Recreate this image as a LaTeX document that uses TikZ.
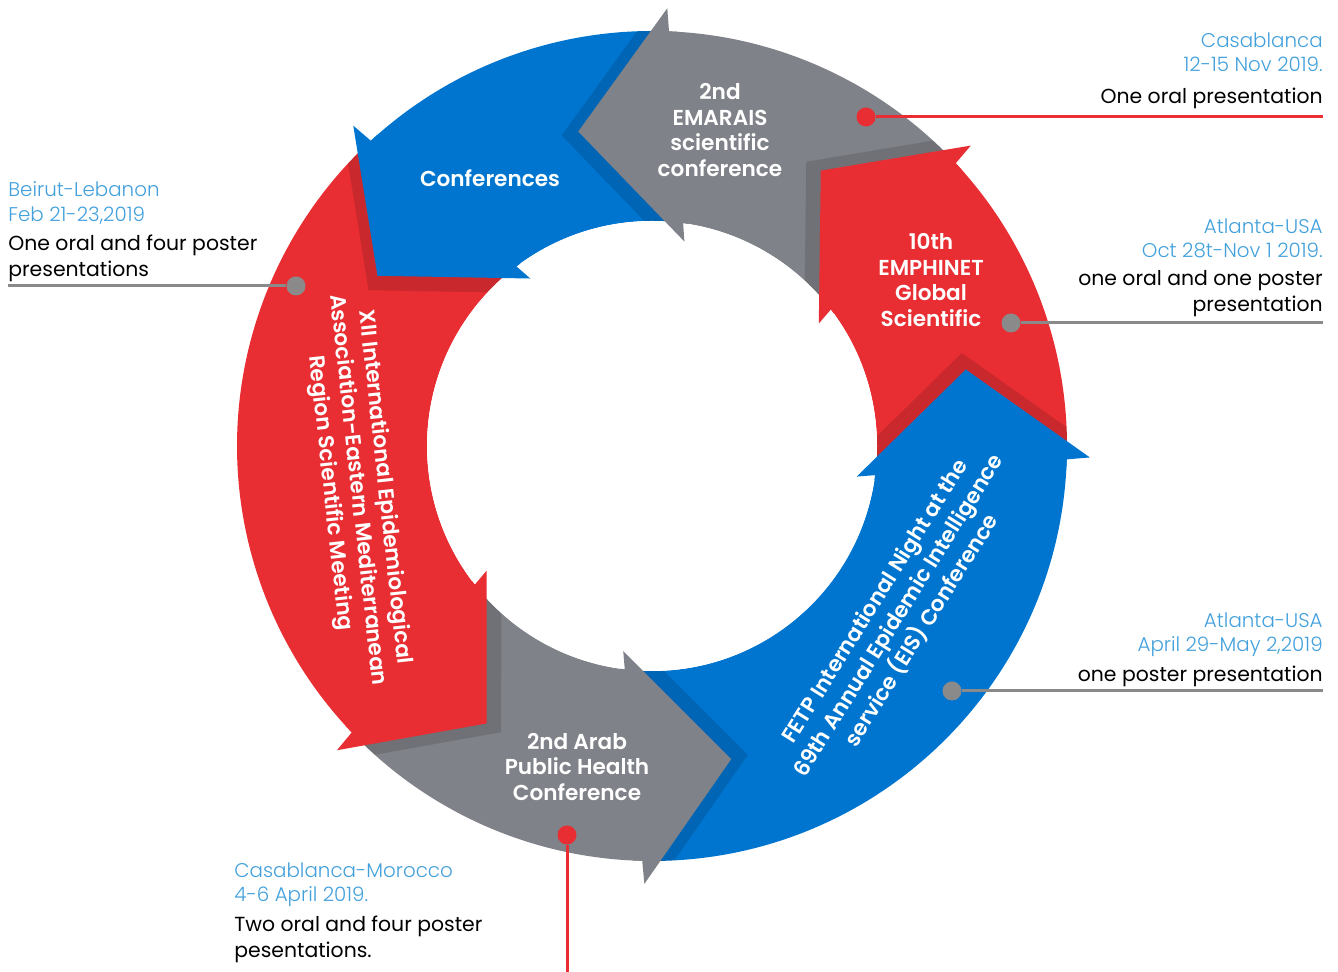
\documentclass[tikz,border=0pt]{standalone}
\usepackage{fontspec}
\setmainfont{Poppins}
\newfontfamily\thinfont{Poppins Light}
\newfontfamily\heavyfont{Poppins SemiBold}
\usepackage{tikz}
\usetikzlibrary{positioning}

\definecolor{ringred}{HTML}{E82E33}
\definecolor{ringblue}{HTML}{0075CF}
\definecolor{ringgray}{HTML}{808289}
\definecolor{placeblue}{HTML}{42A0DC}
\definecolor{dotgray}{HTML}{8A8A8A}

\tikzset{
  place/.style={inner sep=0pt, text=placeblue, font=\thinfont\fontsize{11.3}{14.2}\selectfont},
  note/.style={inner sep=0pt, text=black, font=\fontsize{11.6}{14.8}\selectfont},
  stage/.style={inner sep=0pt, text=white, align=center, font=\heavyfont\fontsize{12.3}{14.5}\selectfont},
  tilted/.style={stage, font=\heavyfont\fontsize{12.3}{15.6}\selectfont},
  dot/.style={circle, inner sep=0pt, minimum size=0.38cm},
  redline/.style={ringred, line width=1.7pt},
  grayline/.style={dotgray, line width=1.7pt},
}

% ring pieces: colour, tail angle, head angle
\newcommand\ringbody[3]{\fill[#1] ({#2-0.35}:415) arc[start angle={#2-0.35}, end angle={#3-0.35}, radius=415]
  -- ({#3-5.95}:225) arc[start angle={#3-5.95}, end angle={#2-5.95}, radius=225] -- cycle;}
\newcommand\ringhead[2]{\fill[#1] ({#2}:438) -- ({#2+15.2}:323) -- ({#2-7}:207) -- ({#2-5.95}:225)
  -- ({#2-7.2}:225) -- ({#2-1.6}:415) -- ({#2-0.35}:415) -- cycle;}
\newcommand\ringshade[1]{\fill[black, opacity=.13, shift={({#1+105.2}:17)}] ({#1}:438) -- ({#1+15.2}:323) -- ({#1-7}:207) -- cycle;}

\begin{document}
\begin{tikzpicture}[x=0.02cm, y=0.02cm]
\useasboundingbox (0,0) rectangle (1338,972);

\begin{scope}[shift={(652,526)}]
  \ringbody{ringgray}{43.3}{88}
  \ringbody{ringblue}{88}{133}
  \ringbody{ringred}{133}{224}
  \ringbody{ringgray}{224}{269}
  \ringbody{ringblue}{269}{358.5}
  \ringbody{ringred}{358.5}{403.3}
  \begin{scope}
    \clip (0,0) circle[radius=415];
    \foreach \a in {88,133,224,269,358.5,43.3}{
      \ringshade{\a}
    }
  \end{scope}
  \fill[white] (0,0) circle[radius=225];
  \ringhead{ringgray}{88}
  \ringhead{ringblue}{133}
  \ringhead{ringred}{224}
  \ringhead{ringgray}{269}
  \ringhead{ringblue}{358.5}
  \ringhead{ringred}{43.3}
\end{scope}

% arrow texts
\node[stage] (emarais) at (720,842) {2nd\\EMARAIS\\scientific\\conference};
\node[stage] (confs) at (490,794) {Conferences};
\node[stage] (emphinet) at (931,692) {10th\\EMPHINET\\Global\\Scientific};
\node[stage] (arab) at (577,205) {2nd Arab\\Public Health\\Conference};
\node[tilted, rotate=-83.8] (xii) at (357,482) {XII International Epidemiological\\Association-Eastern Mediterranean\\Region Scientific Meeting};
\node[tilted, rotate=58] (fetp) at (899,356) {FETP International Night at the\\69th Annual Epidemic Intelligence\\service (EIS) Conference};

% callouts
\node[place, align=right, anchor=north east] (casaP) at (1323,940) {Casablanca\\12-15 Nov 2019.};
\node[note, align=right, anchor=north east] (casaN) at (1323,884) {One oral presentation};
\node[dot, fill=ringred] (casaDot) at (866,855) {};
\coordinate (casaEnd) at (1323,855);
\draw[redline] (casaDot) -- (casaEnd);

\node[place, align=right, anchor=north east] (atlP) at (1323,754) {Atlanta-USA\\Oct 28t-Nov 1 2019.};
\node[note, align=right, anchor=north east] (atlN) at (1323,702) {one oral and one poster\\presentation};
\node[dot, fill=dotgray] (atlDot) at (1011,649) {};
\coordinate (atlEnd) at (1323,649);
\draw[grayline] (atlDot) -- (atlEnd);

\node[place, align=right, anchor=north east] (aprP) at (1323,360) {Atlanta-USA\\April 29-May 2,2019};
\node[note, align=right, anchor=north east] (aprN) at (1323,306) {one poster presentation};
\node[dot, fill=dotgray] (aprDot) at (952,281) {};
\coordinate (aprEnd) at (1323,281);
\draw[grayline] (aprDot) -- (aprEnd);

\node[place, align=left, anchor=north west] (beiP) at (8,791) {Beirut-Lebanon\\Feb 21-23,2019};
\node[note, align=left, anchor=north west] (beiN) at (8,737) {One oral and four poster\\presentations};
\node[dot, fill=dotgray] (beiDot) at (296,686) {};
\coordinate (beiEnd) at (8,686);
\draw[grayline] (beiDot) -- (beiEnd);

\node[place, align=left, anchor=north west] (morP) at (234,110) {Casablanca-Morocco\\4-6 April 2019.};
\node[note, align=left, anchor=north west] (morN) at (234,56) {Two oral and four poster\\pesentations.};
\node[dot, fill=ringred] (morDot) at (567,137) {};
\coordinate (morEnd) at (567,0);
\draw[redline] (morDot) -- (morEnd);
\end{tikzpicture}
\end{document}
